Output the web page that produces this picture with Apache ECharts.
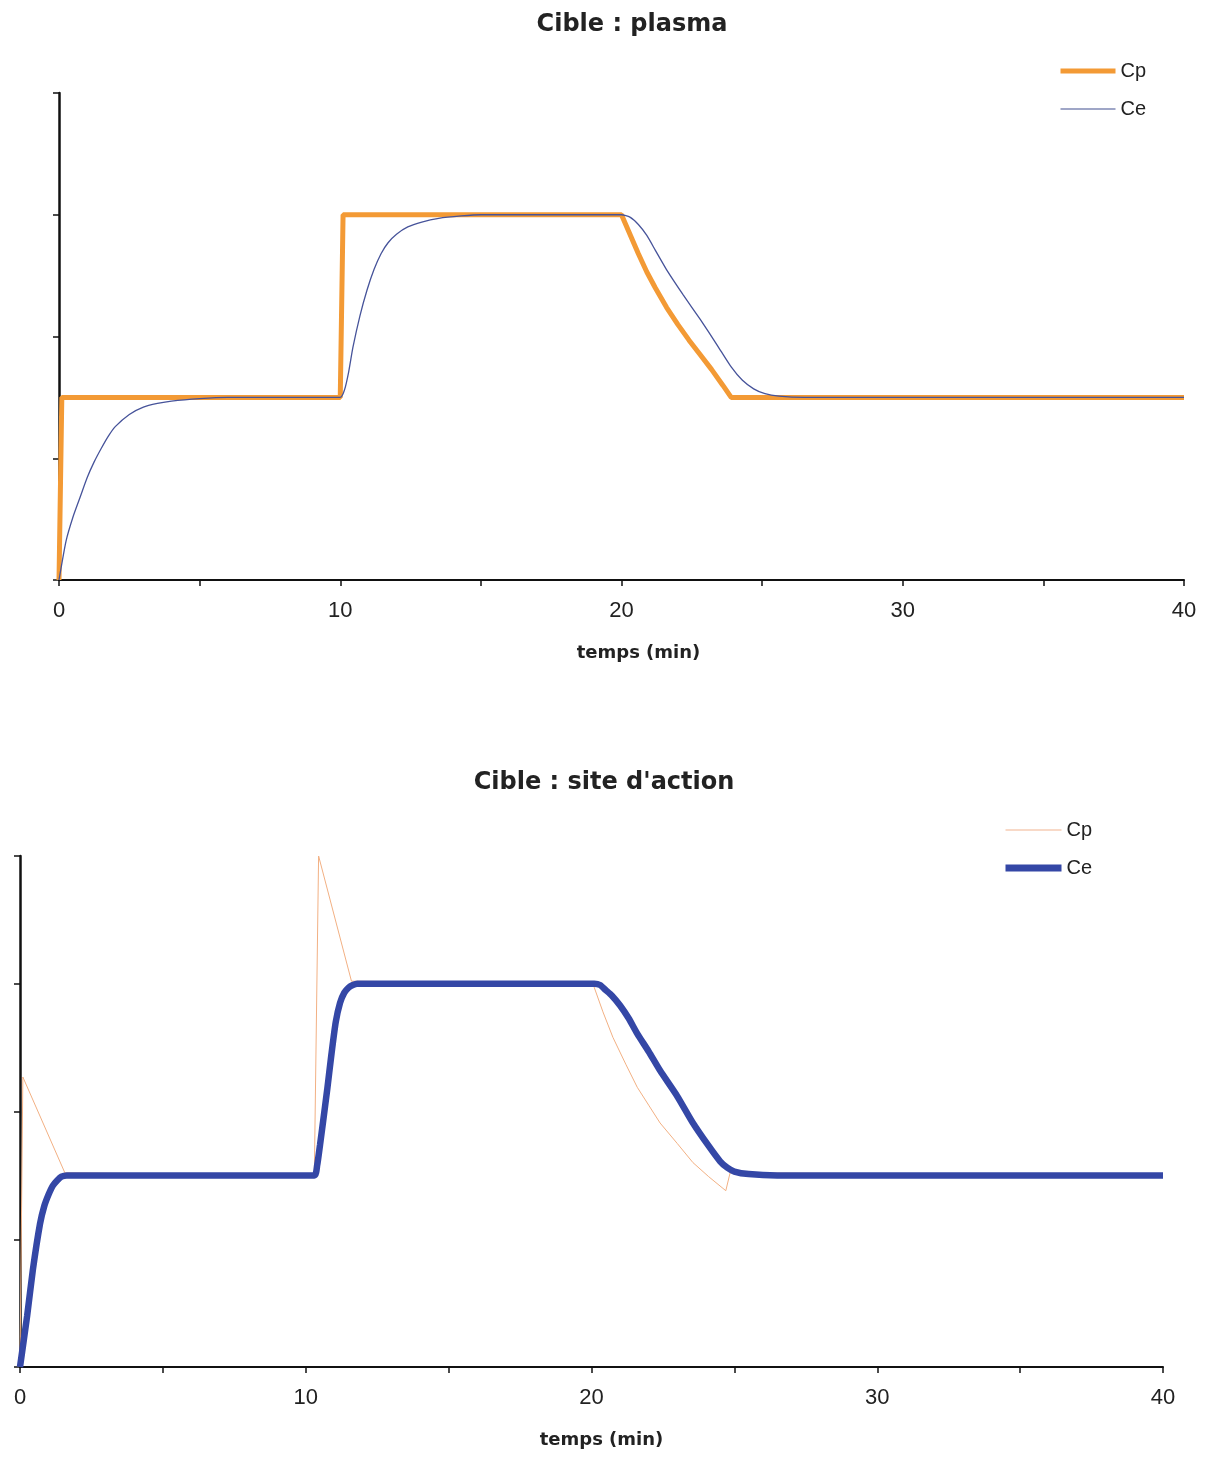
<!DOCTYPE html>
<html>
<head>
<meta charset="utf-8">
<script src="https://cdn.jsdelivr.net/npm/echarts@6/dist/echarts.min.js"></script>
<style>
html,body{margin:0;padding:0;background:#fff;}
#chart{width:1209px;height:1459px;}
</style>
</head>
<body>
<div id="chart"></div>
<script>
// ---- Data ----
var titles = ["Cible : plasma", "Cible : site d'action"];
var xAxisTitle = "temps (min)";
var xTickLabels = [0, 10, 20, 30, 40];

// Panel 1: target = plasma
var plasmaCpT = [0, 0.1, 10, 10.1, 20, 20.3, 20.6, 20.9, 21.2, 21.6, 22.0, 22.4, 22.8, 23.2, 23.6, 23.9, 40];
var plasmaCpV = [0, 1.5, 1.5, 3, 3, 2.84, 2.68, 2.53, 2.40, 2.24, 2.10, 1.97, 1.85, 1.73, 1.60, 1.5, 1.5];

var plasmaCeT = [0, 0.25, 0.5, 0.75, 1.0, 1.25, 1.5, 1.75, 2.0, 2.5, 3.0, 3.5, 4.0, 5.0, 6.0, 10.0, 10.15, 10.3, 10.45, 10.7, 10.95, 11.2, 11.45, 11.7, 12.0, 12.4, 12.9, 13.5, 14.3, 15.0, 20.0, 20.3, 20.6, 20.9, 21.2, 21.6, 22.2, 22.8, 23.4, 23.9, 24.3, 24.7, 25.1, 25.6, 26.5, 40];
var plasmaCeV = [0, 0.32, 0.52, 0.68, 0.84, 0.97, 1.08, 1.18, 1.26, 1.36, 1.42, 1.45, 1.47, 1.49, 1.5, 1.5, 1.56, 1.71, 1.91, 2.17, 2.38, 2.55, 2.68, 2.77, 2.84, 2.90, 2.94, 2.97, 2.99, 3.0, 3.0, 2.98, 2.92, 2.83, 2.71, 2.55, 2.34, 2.14, 1.93, 1.75, 1.64, 1.57, 1.53, 1.51, 1.5, 1.5];

// Panel 2: target = effect site
var siteCpT = [0, 0.1, 1.57, 10.3, 10.45, 11.6, 20.05, 20.4, 20.75, 21.2, 21.6, 22.0, 22.4, 23.0, 23.55, 24.1, 24.7, 24.85, 40];
var siteCpV = [0, 2.27, 1.52, 1.5, 4.0, 3.02, 3.0, 2.78, 2.58, 2.37, 2.19, 2.05, 1.91, 1.75, 1.60, 1.49, 1.38, 1.52, 1.5];

var siteCeT = [0, 0.25, 0.45, 0.7, 0.85, 1.0, 1.15, 1.3, 1.45, 1.64, 10.3, 10.4, 10.5, 10.6, 10.75, 10.9, 11.05, 11.2, 11.35, 11.5, 11.65, 11.8, 20.1, 20.3, 20.5, 20.7, 21.0, 21.3, 21.6, 22.0, 22.4, 23.0, 23.55, 24.1, 24.5, 24.75, 25.0, 25.5, 26.5, 40];
var siteCeV = [0, 0.40, 0.76, 1.12, 1.26, 1.35, 1.42, 1.46, 1.49, 1.5, 1.5, 1.58, 1.74, 1.91, 2.17, 2.45, 2.70, 2.85, 2.93, 2.97, 2.99, 3.0, 3.0, 2.99, 2.95, 2.91, 2.83, 2.73, 2.61, 2.47, 2.32, 2.12, 1.91, 1.73, 1.61, 1.56, 1.53, 1.51, 1.5, 1.5];

function pairs(t, v) { return t.map(function (x, i) { return [x, v[i]]; }); }

var labelFont = "'Liberation Sans', Arial, sans-serif";
var boldFont = "'DejaVu Sans', sans-serif";

function xAxisDef(gridIndex, namePad) {
  return {
    gridIndex: gridIndex, type: 'value', min: 0, max: 40, interval: 5,
    axisLine: { lineStyle: { color: '#111', width: 2 } },
    axisTick: { show: true, inside: false, length: 6, lineStyle: { color: '#111', width: 1.5 } },
    axisLabel: {
      margin: 20, fontSize: 22, color: '#222', fontFamily: labelFont,
      formatter: function (v) { return xTickLabels.indexOf(v) >= 0 ? String(v) : ''; }
    },
    splitLine: { show: false },
    name: xAxisTitle, nameLocation: 'middle', nameGap: 64,
    nameTextStyle: { fontSize: 18, fontWeight: 'bold', color: '#222', fontFamily: boldFont, padding: namePad }
  };
}
function yAxisDef(gridIndex) {
  return {
    gridIndex: gridIndex, type: 'value', min: 0, max: 4, interval: 1,
    axisLine: { show: true, lineStyle: { color: '#111', width: 2.5 } },
    axisTick: { show: true, inside: false, length: 6, lineStyle: { color: '#111', width: 1.5 } },
    axisLabel: { show: false },
    splitLine: { show: false }
  };
}
function legendItem(name, color, width) {
  return { name: name, itemStyle: { opacity: 0 }, lineStyle: { color: color, width: width, opacity: 1 } };
}

var chart = echarts.init(document.getElementById('chart'));
chart.setOption({
  backgroundColor: '#fff',
  animation: false,
  title: [
    { text: titles[0], left: 627, top: 8, textAlign: 'center',
      textStyle: { fontSize: 24, fontWeight: 'bold', color: '#222', fontFamily: boldFont } },
    { text: titles[1], left: 599, top: 766, textAlign: 'center',
      textStyle: { fontSize: 24, fontWeight: 'bold', color: '#222', fontFamily: boldFont } }
  ],
  grid: [
    { left: 59, right: 25, top: 93, height: 487 },
    { left: 20, right: 46, top: 856, height: 511 }
  ],
  xAxis: [xAxisDef(0, [0, 0, 0, 34]), xAxisDef(1, [0, 0, 0, 20])],
  yAxis: [yAxisDef(0), yAxisDef(1)],
  legend: [
    { orient: 'vertical', left: 1053, top: 56, itemWidth: 55, itemHeight: 16, itemGap: 18,
      data: [legendItem('Cp_plasma', '#F39A35', 5), legendItem('Ce_plasma', '#7F88B5', 1.5)],
      formatter: function (n) { return n.split('_')[0]; },
      textStyle: { fontSize: 20, color: '#222', fontFamily: labelFont } },
    { orient: 'vertical', left: 997, top: 815, itemWidth: 56, itemHeight: 16, itemGap: 18,
      data: [legendItem('Cp_site', '#F6CDB5', 1.5), legendItem('Ce_site', '#3447A6', 7)],
      formatter: function (n) { return n.split('_')[0]; },
      textStyle: { fontSize: 20, color: '#222', fontFamily: labelFont } }
  ],
  series: [
    { name: 'Cp_plasma', type: 'line', xAxisIndex: 0, yAxisIndex: 0, showSymbol: false, symbol: 'none',
      data: pairs(plasmaCpT, plasmaCpV), lineStyle: { color: '#F39A35', width: 5 }, itemStyle: { color: '#F39A35' }, z: 2 },
    { name: 'Ce_plasma', type: 'line', xAxisIndex: 0, yAxisIndex: 0, showSymbol: false, symbol: 'none',
      smooth: 0.2,
      data: pairs(plasmaCeT, plasmaCeV), lineStyle: { color: '#46539A', width: 1.3 }, itemStyle: { color: '#46539A' }, z: 3 },
    { name: 'Cp_site', type: 'line', xAxisIndex: 1, yAxisIndex: 1, showSymbol: false, symbol: 'none',
      data: pairs(siteCpT, siteCpV), lineStyle: { color: '#F2B083', width: 1 }, itemStyle: { color: '#F2B083' }, z: 2 },
    { name: 'Ce_site', type: 'line', xAxisIndex: 1, yAxisIndex: 1, showSymbol: false, symbol: 'none',
      smooth: 0.2,
      data: pairs(siteCeT, siteCeV), lineStyle: { color: '#3447A6', width: 6.5 }, itemStyle: { color: '#3447A6' }, z: 3 }
  ]
});
</script>
</body>
</html>
